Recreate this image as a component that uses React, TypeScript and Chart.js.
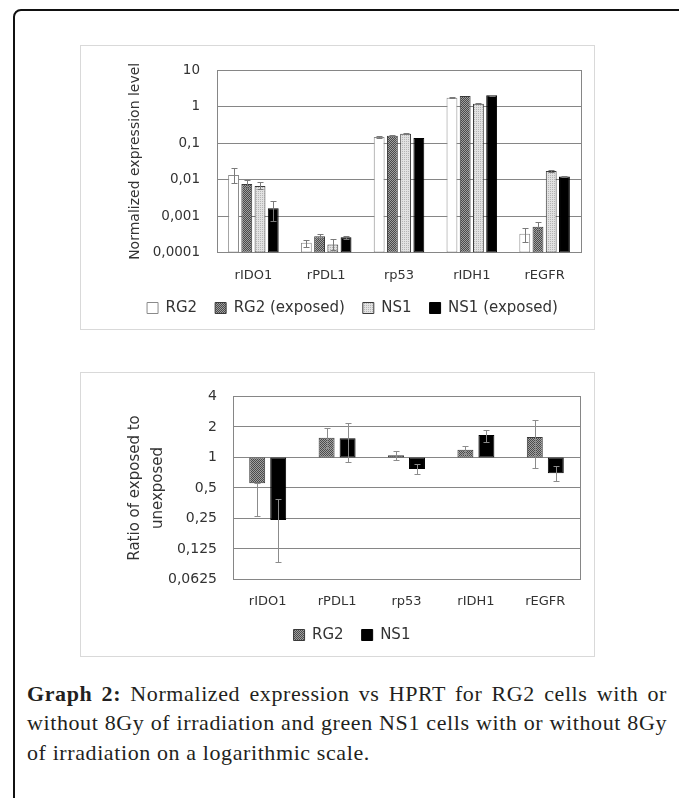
import React, { useEffect, useRef } from "react";
import { Chart, registerables } from "chart.js";

Chart.register(...registerables);

// ---------- data: top chart (normalized expression) ----------
const CATEGORIES = ["rIDO1", "rPDL1", "rp53", "rIDH1", "rEGFR"];
const TOP_SERIES = ["RG2", "RG2 (exposed)", "NS1", "NS1 (exposed)"];

const RG2_VALUES = [0.0134, 0.000186, 0.147, 1.74, 0.000327];
const RG2_ERR_LOW = [0.0078, 0.000141, 0.142, 1.68, 0.000198];
const RG2_ERR_HIGH = [0.021, 0.00022, 0.152, 1.8, 0.00046];

const RG2_EXP_VALUES = [0.0075, 0.000279, 0.159, 1.96, 0.00051];
const RG2_EXP_ERR_LOW = [0.006, 0.00025, 0.155, 1.92, 0.0004];
const RG2_EXP_ERR_HIGH = [0.0098, 0.000327, 0.163, 2.0, 0.00069];

const NS1_VALUES = [0.0067, 0.000165, 0.179, 1.19, 0.0171];
const NS1_ERR_LOW = [0.0054, 0.00012, 0.172, 1.16, 0.0165];
const NS1_ERR_HIGH = [0.0085, 0.000232, 0.186, 1.22, 0.0178];

const NS1_EXP_VALUES = [0.00163, 0.000262, 0.138, 2.04, 0.0122];
const NS1_EXP_ERR_LOW = [0.00072, 0.00024, 0.134, 1.98, 0.0118];
const NS1_EXP_ERR_HIGH = [0.00255, 0.00029, 0.142, 2.12, 0.0127];

const TOP_TICKS = [0.0001, 0.001, 0.01, 0.1, 1, 10];
const TOP_TICK_LABELS = ["0,0001", "0,001", "0,01", "0,1", "1", "10"];
const TOP_TITLE = "Normalized expression level";

// ---------- data: bottom chart (ratio exposed / unexposed) ----------
const RATIO_SERIES = ["RG2", "NS1"];
const RATIO_BASE = 1;
const RATIO_RG2 = [0.557, 1.56, 1.05, 1.19, 1.59];
const RATIO_RG2_ERR_LOW = [0.262, 1.235, 0.94, 1.08, 0.79];
const RATIO_RG2_ERR_HIGH = [0.557, 1.97, 1.15, 1.31, 2.36];

const RATIO_NS1 = [0.242, 1.55, 0.77, 1.66, 0.7];
const RATIO_NS1_ERR_LOW = [0.092, 0.91, 0.69, 1.43, 0.58];
const RATIO_NS1_ERR_HIGH = [0.387, 2.2, 0.865, 1.88, 0.83];

const RATIO_TICKS = [0.0625, 0.125, 0.25, 0.5, 1, 2, 4];
const RATIO_TICK_LABELS = ["0,0625", "0,125", "0,25", "0,5", "1", "2", "4"];
const RATIO_TITLE = ["Ratio of exposed to", "unexposed"];

const CAPTION_BOLD = "Graph 2:";
const CAPTION_LINES = [
  " Normalized expression vs HPRT for RG2 cells with or",
  "without 8Gy of irradiation and green NS1 cells with or without 8Gy",
  "of irradiation on a logarithmic scale.",
];

// ---------- helpers ----------
const TEXT = "#333333";
const GRID = "#868686";
const ERR = "#7a7a7a";

function makePattern(
  ctx: CanvasRenderingContext2D,
  base: string,
  dot: string,
  mode: "checker" | "sparse"
) {
  const c = document.createElement("canvas");
  c.width = 4;
  c.height = 4;
  const g = c.getContext("2d")!;
  g.fillStyle = base;
  g.fillRect(0, 0, 4, 4);
  g.fillStyle = dot;
  for (let y = 0; y < 4; y++)
    for (let x = 0; x < 4; x++) {
      const on = mode === "checker" ? (x + y) % 2 === 0 : x % 2 === 0 && y % 2 === 0;
      if (on) g.fillRect(x, y, 1, 1);
    }
  return ctx.createPattern(c, "repeat")!;
}

function zipErr(lo: number[], hi: number[]) {
  return lo.map((l, i) => [l, hi[i]]);
}

function labelFor(ticks: number[], labels: string[], v: number) {
  const i = ticks.findIndex((t) => Math.abs(t - v) / t < 1e-6);
  return i >= 0 ? labels[i] : "";
}

const plotFramePlugin = {
  id: "plotFrame",
  beforeDatasetsDraw(chart: any) {
    const { ctx, chartArea: a } = chart;
    ctx.save();
    ctx.strokeStyle = GRID;
    ctx.lineWidth = 1;
    ctx.strokeRect(
      Math.round(a.left) + 0.5,
      Math.round(a.top) + 0.5,
      Math.round(a.right - a.left),
      Math.round(a.bottom - a.top)
    );
    ctx.restore();
  },
};

const errorBarsPlugin = {
  id: "errorBars",
  afterDatasetsDraw(chart: any) {
    const ctx = chart.ctx;
    const yScale = chart.scales.y;
    chart.data.datasets.forEach((ds: any, di: number) => {
      const errs = ds.errorBars;
      if (!errs) return;
      const meta = chart.getDatasetMeta(di);
      meta.data.forEach((bar: any, i: number) => {
        const e = errs[i];
        if (!e) return;
        const x = Math.round(bar.x) + 0.5;
        const y1 = Math.round(yScale.getPixelForValue(e[0])) + 0.5;
        const y2 = Math.round(yScale.getPixelForValue(e[1])) + 0.5;
        const cap = 3;
        ctx.save();
        ctx.strokeStyle = ds.errorColor || ERR;
        ctx.lineWidth = 1;
        ctx.beginPath();
        ctx.moveTo(x, y1);
        ctx.lineTo(x, y2);
        if (Math.abs(y1 - y2) > 0.5) {
          ctx.moveTo(x - cap, y1);
          ctx.lineTo(x + cap, y1);
          ctx.moveTo(x - cap, y2);
          ctx.lineTo(x + cap, y2);
        }
        ctx.stroke();
        ctx.restore();
      });
    });
  },
};

function TopChart() {
  const ref = useRef<HTMLCanvasElement>(null);
  useEffect(() => {
    const canvas = ref.current!;
    const ctx = canvas.getContext("2d")!;
    const hatch = makePattern(ctx, "#a0a0a0", "#4a4a4a", "checker");
    const dots = makePattern(ctx, "#e2e2e2", "#b4b4b4", "sparse");
    const common = {
      categoryPercentage: 0.727,
      barPercentage: 0.82,
      borderWidth: 1,
      borderSkipped: false,
    };
    const chart = new Chart(ctx, {
      type: "bar",
      data: {
        labels: CATEGORIES,
        datasets: [
          {
            label: TOP_SERIES[0],
            data: RG2_VALUES,
            backgroundColor: "#ffffff",
            borderColor: "#8a8a8a",
            errorBars: zipErr(RG2_ERR_LOW, RG2_ERR_HIGH),
            ...common,
          },
          {
            label: TOP_SERIES[1],
            data: RG2_EXP_VALUES,
            backgroundColor: hatch,
            borderColor: "#3a3a3a",
            errorBars: zipErr(RG2_EXP_ERR_LOW, RG2_EXP_ERR_HIGH),
            ...common,
          },
          {
            label: TOP_SERIES[2],
            data: NS1_VALUES,
            backgroundColor: dots,
            borderColor: "#3a3a3a",
            errorBars: zipErr(NS1_ERR_LOW, NS1_ERR_HIGH),
            ...common,
          },
          {
            label: TOP_SERIES[3],
            data: NS1_EXP_VALUES,
            backgroundColor: "#000000",
            borderColor: "#000000",
            errorBars: zipErr(NS1_EXP_ERR_LOW, NS1_EXP_ERR_HIGH),
            ...common,
          },
        ] as any,
      },
      options: {
        responsive: false,
        animation: false,
        events: [],
        layout: { padding: { left: 44, right: 14, top: 17, bottom: 4.5 } },
        plugins: {
          tooltip: { enabled: false },
          legend: {
            position: "bottom",
            labels: {
              boxWidth: 11,
              boxHeight: 11,
              padding: 18,
              color: TEXT,
              font: { size: 15, family: "DejaVu Sans" },
            },
          },
        },
        scales: {
          x: {
            grid: { display: false, drawTicks: false },
            border: { display: false },
            ticks: { padding: 15, color: TEXT, font: { size: 13, family: "DejaVu Sans" } },
            afterFit: (s: any) => {
              s.height = 30;
            },
          },
          y: {
            type: "logarithmic",
            min: TOP_TICKS[0],
            max: TOP_TICKS[TOP_TICKS.length - 1],
            afterBuildTicks: (s: any) => {
              s.ticks = TOP_TICKS.map((v) => ({ value: v }));
            },
            afterFit: (s: any) => {
              s.width = 93;
            },
            grid: { color: GRID, drawTicks: false },
            border: { display: false },
            ticks: {
              padding: 17,
              color: TEXT,
              font: { size: 13.5, family: "DejaVu Sans" },
              callback: (v: any) => labelFor(TOP_TICKS, TOP_TICK_LABELS, Number(v)),
            },
            title: {
              display: true,
              text: TOP_TITLE,
              color: TEXT,
              font: { size: 14, family: "DejaVu Sans", lineHeight: 1.2 },
              padding: { top: 3, bottom: 0 },
            },
          },
        },
      } as any,
      plugins: [plotFramePlugin, errorBarsPlugin],
    });
    return () => chart.destroy();
  }, []);
  return <canvas ref={ref} width={515} height={285} style={{ display: "block" }} />;
}

function RatioChart() {
  const ref = useRef<HTMLCanvasElement>(null);
  useEffect(() => {
    const canvas = ref.current!;
    const ctx = canvas.getContext("2d")!;
    const hatch = makePattern(ctx, "#a0a0a0", "#4a4a4a", "checker");
    const common = {
      categoryPercentage: 0.605,
      barPercentage: 0.76,
      borderWidth: 1,
      borderSkipped: false,
    };
    const chart = new Chart(ctx, {
      type: "bar",
      data: {
        labels: CATEGORIES,
        datasets: [
          {
            label: RATIO_SERIES[0],
            data: RATIO_RG2.map((v) => [RATIO_BASE, v]),
            backgroundColor: hatch,
            borderColor: "#3a3a3a",
            errorBars: zipErr(RATIO_RG2_ERR_LOW, RATIO_RG2_ERR_HIGH),
            errorColor: "#8c8c8c",
            ...common,
          },
          {
            label: RATIO_SERIES[1],
            data: RATIO_NS1.map((v) => [RATIO_BASE, v]),
            backgroundColor: "#000000",
            borderColor: "#000000",
            errorBars: zipErr(RATIO_NS1_ERR_LOW, RATIO_NS1_ERR_HIGH),
            errorColor: "#8c8c8c",
            ...common,
          },
        ] as any,
      },
      options: {
        responsive: false,
        animation: false,
        events: [],
        layout: { padding: { left: 44, right: 15, top: 16, bottom: 4.5 } },
        plugins: {
          tooltip: { enabled: false },
          legend: {
            position: "bottom",
            labels: {
              boxWidth: 11,
              boxHeight: 11,
              padding: 18,
              color: TEXT,
              font: { size: 15, family: "DejaVu Sans" },
            },
          },
        },
        scales: {
          x: {
            grid: { display: false, drawTicks: false },
            border: { display: false },
            ticks: { padding: 14, color: TEXT, font: { size: 13, family: "DejaVu Sans" } },
            afterFit: (s: any) => {
              s.height = 30;
            },
          },
          y: {
            type: "logarithmic",
            min: RATIO_TICKS[0],
            max: RATIO_TICKS[RATIO_TICKS.length - 1],
            afterBuildTicks: (s: any) => {
              s.ticks = RATIO_TICKS.map((v) => ({ value: v }));
            },
            afterFit: (s: any) => {
              s.width = 109;
            },
            grid: { color: GRID, drawTicks: false },
            border: { display: false },
            ticks: {
              padding: 16,
              color: TEXT,
              font: { size: 14, family: "DejaVu Sans" },
              callback: (v: any) => labelFor(RATIO_TICKS, RATIO_TICK_LABELS, Number(v)),
            },
            title: {
              display: true,
              text: RATIO_TITLE,
              color: TEXT,
              font: { size: 15, family: "DejaVu Sans", lineHeight: 1.5 },
              padding: { top: 0, bottom: 0 },
            },
          },
        },
      } as any,
      plugins: [plotFramePlugin, errorBarsPlugin],
    });
    return () => chart.destroy();
  }, []);
  return <canvas ref={ref} width={515} height={285} style={{ display: "block" }} />;
}

const boxStyle = (top: number): React.CSSProperties => ({
  position: "absolute",
  left: 80,
  top,
  width: 515,
  height: 285,
  border: "1px solid #d9d9d9",
  boxSizing: "border-box",
});

const canvasWrap = (top: number): React.CSSProperties => ({
  position: "absolute",
  left: 80,
  top,
  width: 515,
  height: 285,
});

const lineStyle = (justify: boolean): React.CSSProperties => ({
  whiteSpace: "nowrap",
  textAlign: justify ? "justify" : "left",
  textAlignLast: justify ? "justify" : "left",
  height: 29.5,
});

export default function App() {
  return (
    <div
      style={{
        position: "fixed",
        left: 0,
        top: 0,
        width: 679,
        height: 798,
        overflow: "hidden",
        background: "#ffffff",
      }}
    >
      <div
        style={{
          position: "absolute",
          left: 13,
          top: 9,
          width: 1000,
          height: 1000,
          border: "2px solid #111",
          borderRadius: 8,
        }}
      />
      <div style={boxStyle(45)} />
      <div style={canvasWrap(45)}>
        <TopChart />
      </div>
      <div style={boxStyle(372)} />
      <div style={canvasWrap(372)}>
        <RatioChart />
      </div>
      <div
        style={{
          position: "absolute",
          left: 27,
          top: 678.5,
          width: 640,
          fontFamily: "'Liberation Serif', serif",
          fontSize: 22,
          letterSpacing: 0.6,
          lineHeight: "29.5px",
          color: "#231f20",
        }}
      >
        <div style={lineStyle(true)}>
          <b>{CAPTION_BOLD}</b>
          {CAPTION_LINES[0]}
        </div>
        <div style={lineStyle(true)}>{CAPTION_LINES[1]}</div>
        <div style={lineStyle(false)}>{CAPTION_LINES[2]}</div>
      </div>
    </div>
  );
}
